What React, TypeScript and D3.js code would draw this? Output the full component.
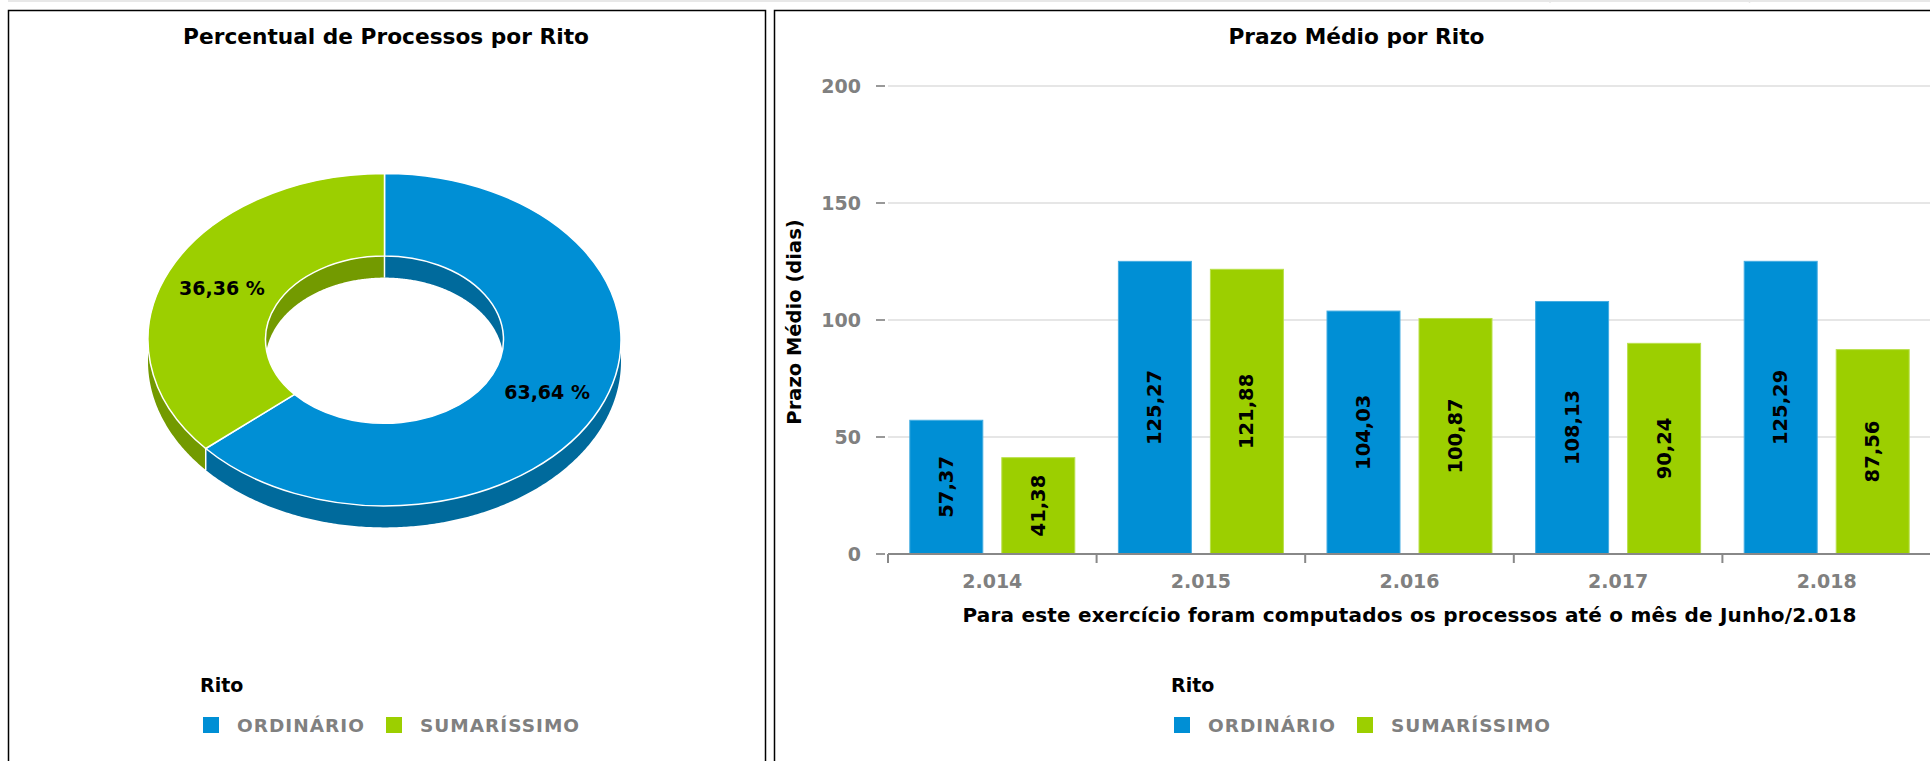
import * as d3 from "d3";

// ---- data ----
const ritos = ["ORDINÁRIO", "SUMARÍSSIMO"];
const percentuais = [63.64, 36.36];

const anos = ["2.014", "2.015", "2.016", "2.017", "2.018"];
const prazoOrdinario = [57.37, 125.27, 104.03, 108.13, 125.29];
const prazoSumarissimo = [41.38, 121.88, 100.87, 90.24, 87.56];
const yTicks = [0, 50, 100, 150, 200];

const colors = ["#008fd5", "#9ccf00"];
const darkColors = ["#006a9c", "#739a00"];

const W = 1930;
const H = 761;
const FONT = "'DejaVu Sans', Verdana, sans-serif";

const fmt = (v: number) => v.toFixed(2).replace(".", ",");

function Legend({ x, y }: { x: number; y: number }) {
	const step = 183;
	return (
		<g>
			<text x={x - 3} y={y} fontFamily={FONT} fontWeight="bold" fontSize={19} fill="#000">
				Rito
			</text>
			{ritos.map((r, i) => (
				<g key={r} transform={`translate(${x + i * step},${y + 25})`}>
					<rect width={16} height={16} fill={colors[i]} />
					<text
						x={34}
						y={15}
						fontFamily={FONT}
						fontWeight="bold"
						fontSize={18.5}
						letterSpacing={1}
						fill="#808080"
					>
						{r}
					</text>
				</g>
			))}
		</g>
	);
}

function Donut() {
	const cx = 384.5;
	const cy = 339.7;
	const rOuter = 236.5;
	const rInner = 119;
	const k = 0.7027;
	const depth = 21.5;
	const TAU = Math.PI * 2;

	const arcs = d3
		.pie<number>()
		.sort(null)
		.value((d) => d)(percentuais);
	const arc = d3.arc<d3.PieArcDatum<number>>().innerRadius(rInner).outerRadius(rOuter);

	const pt = (r: number, a: number, dy: number): [number, number] => [
		cx + r * Math.sin(a),
		cy - r * k * Math.cos(a) + dy,
	];
	const line = d3.line();
	const wall = (r: number, a0: number, a1: number) => {
		const n = Math.max(2, Math.ceil((a1 - a0) / 0.01));
		const as = d3.range(n + 1).map((i) => a0 + ((a1 - a0) * i) / n);
		const top = as.map((a) => pt(r, a, 0));
		const bottom = as.map((a) => pt(r, a, depth)).reverse();
		return line([...top, ...bottom]) + "Z";
	};
	const clip = (a0: number, a1: number, ranges: [number, number][]) =>
		ranges
			.map(([s, e]) => [Math.max(a0, s), Math.min(a1, e)] as [number, number])
			.filter(([s, e]) => e > s);

	const back: [number, number][] = [
		[0, Math.PI / 2],
		[(3 * Math.PI) / 2, TAU],
	];
	const front: [number, number][] = [[Math.PI / 2, (3 * Math.PI) / 2]];

	const bounds = arcs.map((a) => a.startAngle % TAU);

	return (
		<g>
			{/* inner wall (far side of the hole) */}
			{arcs.map((a, i) =>
				clip(a.startAngle, a.endAngle, back).map(([s, e], j) => (
					<path key={`in${i}-${j}`} d={wall(rInner, s, e)} fill={darkColors[i]} />
				)),
			)}
			{/* outer wall (front) */}
			{arcs.map((a, i) =>
				clip(a.startAngle, a.endAngle, front).map(([s, e], j) => (
					<path key={`out${i}-${j}`} d={wall(rOuter, s, e)} fill={darkColors[i]} />
				)),
			)}
			{bounds.map((b, i) => {
				const isFront = b > Math.PI / 2 && b < (3 * Math.PI) / 2;
				const r = isFront ? rOuter : rInner;
				const [x0, y0] = pt(r, b, 0);
				const [, y1] = pt(r, b, depth);
				return <line key={`sep${i}`} x1={x0} x2={x0} y1={y0} y2={y1} stroke="#fff" strokeWidth={1.5} />;
			})}
			{/* top face */}
			<g transform={`translate(${cx},${cy}) scale(1,${k})`}>
				{arcs.map((a, i) => (
					<path
						key={`top${i}`}
						d={arc(a) ?? ""}
						fill={colors[i]}
						stroke="#fff"
						strokeWidth={1.5}
						vectorEffect="non-scaling-stroke"
					/>
				))}
			</g>
			{arcs.map((a, i) => {
				const mid = (a.startAngle + a.endAngle) / 2;
				const [x, y] = pt((rInner + rOuter) / 2 + 1, mid, 0);
				return (
					<text
						key={`lab${i}`}
						x={x}
						y={y}
						textAnchor="middle"
						dominantBaseline="central"
						fontFamily={FONT}
						fontWeight="bold"
						fontSize={19}
						fill="#000"
					>
						{fmt(a.data)} %
					</text>
				);
			})}
		</g>
	);
}

function Bars() {
	const x0 = d3.scaleBand<string>().domain(anos).range([888, 1931]).paddingInner(0).paddingOuter(0);
	const x1 = d3
		.scaleBand<number>()
		.domain([0, 1])
		.range([0, x0.bandwidth()])
		.paddingInner(0.1957)
		.paddingOuter(0.2315);
	const y = d3.scaleLinear().domain([0, 200]).range([554, 86]);
	const series = [prazoOrdinario, prazoSumarissimo];
	const strokes = ["#45ade2", "#b9e04a"];
	const [xl, xr] = [888, W];

	return (
		<g fontFamily={FONT}>
			{yTicks.map((t) => (
				<g key={t}>
					{t > 0 && <line x1={xl} x2={xr} y1={y(t)} y2={y(t)} stroke="#e6e6e6" strokeWidth={2} />}
					<line x1={876} x2={885} y1={y(t)} y2={y(t)} stroke="#999" strokeWidth={2} />
					<text
						x={861}
						y={y(t)}
						textAnchor="end"
						dominantBaseline="central"
						fontWeight="bold"
						fontSize={19}
						fill="#808080"
					>
						{t}
					</text>
				</g>
			))}
			{anos.map((ano, i) => (
				<g key={ano}>
					{series.map((s, j) => {
						const bx = (x0(ano) ?? 0) + (x1(j) ?? 0);
						const by = y(s[i]);
						const bh = y(0) - by;
						return (
							<g key={j}>
								<rect
									x={bx + 0.5}
									y={by + 0.5}
									width={x1.bandwidth() - 1}
									height={bh - 0.5}
									fill={colors[j]}
									stroke={strokes[j]}
									strokeWidth={1}
								/>
								<text
									transform={`translate(${bx + x1.bandwidth() / 2},${by + bh / 2}) rotate(-90)`}
									textAnchor="middle"
									dominantBaseline="central"
									fontWeight="bold"
									fontSize={19.5}
									fill="#000"
								>
									{fmt(s[i])}
								</text>
							</g>
						);
					})}
					<text
						x={(x0(ano) ?? 0) + x0.bandwidth() / 2}
						y={588}
						textAnchor="middle"
						fontWeight="bold"
						fontSize={19}
						fill="#808080"
					>
						{ano}
					</text>
				</g>
			))}
			<line x1={xl} x2={xr} y1={y(0)} y2={y(0)} stroke="#888" strokeWidth={2} />
			{[...anos.map((a) => x0(a) ?? 0)].map((tx, i) => (
				<line key={i} x1={tx} x2={tx} y1={y(0)} y2={y(0) + 9} stroke="#888" strokeWidth={2} />
			))}
			<text
				transform={`translate(801,322) rotate(-90)`}
				textAnchor="middle"
				fontWeight="bold"
				fontSize={19.5}
				fill="#000"
			>
				Prazo Médio (dias)
			</text>
			<text
				x={(xl + 1931) / 2}
				y={622}
				textAnchor="middle"
				fontWeight="bold"
				fontSize={20}
				letterSpacing={0.2}
				fill="#000"
			>
				Para este exercício foram computados os processos até o mês de Junho/2.018
			</text>
		</g>
	);
}

export default function App() {
	return (
		<svg
			width={W}
			height={H}
			style={{ position: "absolute", left: 0, top: 0, display: "block", background: "#fff" }}
		>
			<rect width={W} height={H} fill="#fff" />
			{/* strip of the table above */}
			<line x1={8} x2={W} y1={1} y2={1} stroke="#e8e8e8" strokeWidth={2} />
			<line x1={1550} x2={1550} y1={0} y2={3} stroke="#e8e8e8" strokeWidth={1.5} />
			<line x1={1749.5} x2={1749.5} y1={0} y2={3} stroke="#e8e8e8" strokeWidth={1.5} />

			{/* panels */}
			<rect x={8.5} y={10.5} width={757} height={H} fill="none" stroke="#000" strokeWidth={1.5} />
			<rect x={774.5} y={10.5} width={1200} height={H} fill="none" stroke="#000" strokeWidth={1.5} />

			<text x={386} y={44} textAnchor="middle" fontFamily={FONT} fontWeight="bold" fontSize={21.7} fill="#000">
				Percentual de Processos por Rito
			</text>
			<Donut />
			<Legend x={203} y={692} />

			<text x={1356.5} y={44} textAnchor="middle" fontFamily={FONT} fontWeight="bold" fontSize={21.7} fill="#000">
				Prazo Médio por Rito
			</text>
			<Bars />
			<Legend x={1174} y={692} />
		</svg>
	);
}
